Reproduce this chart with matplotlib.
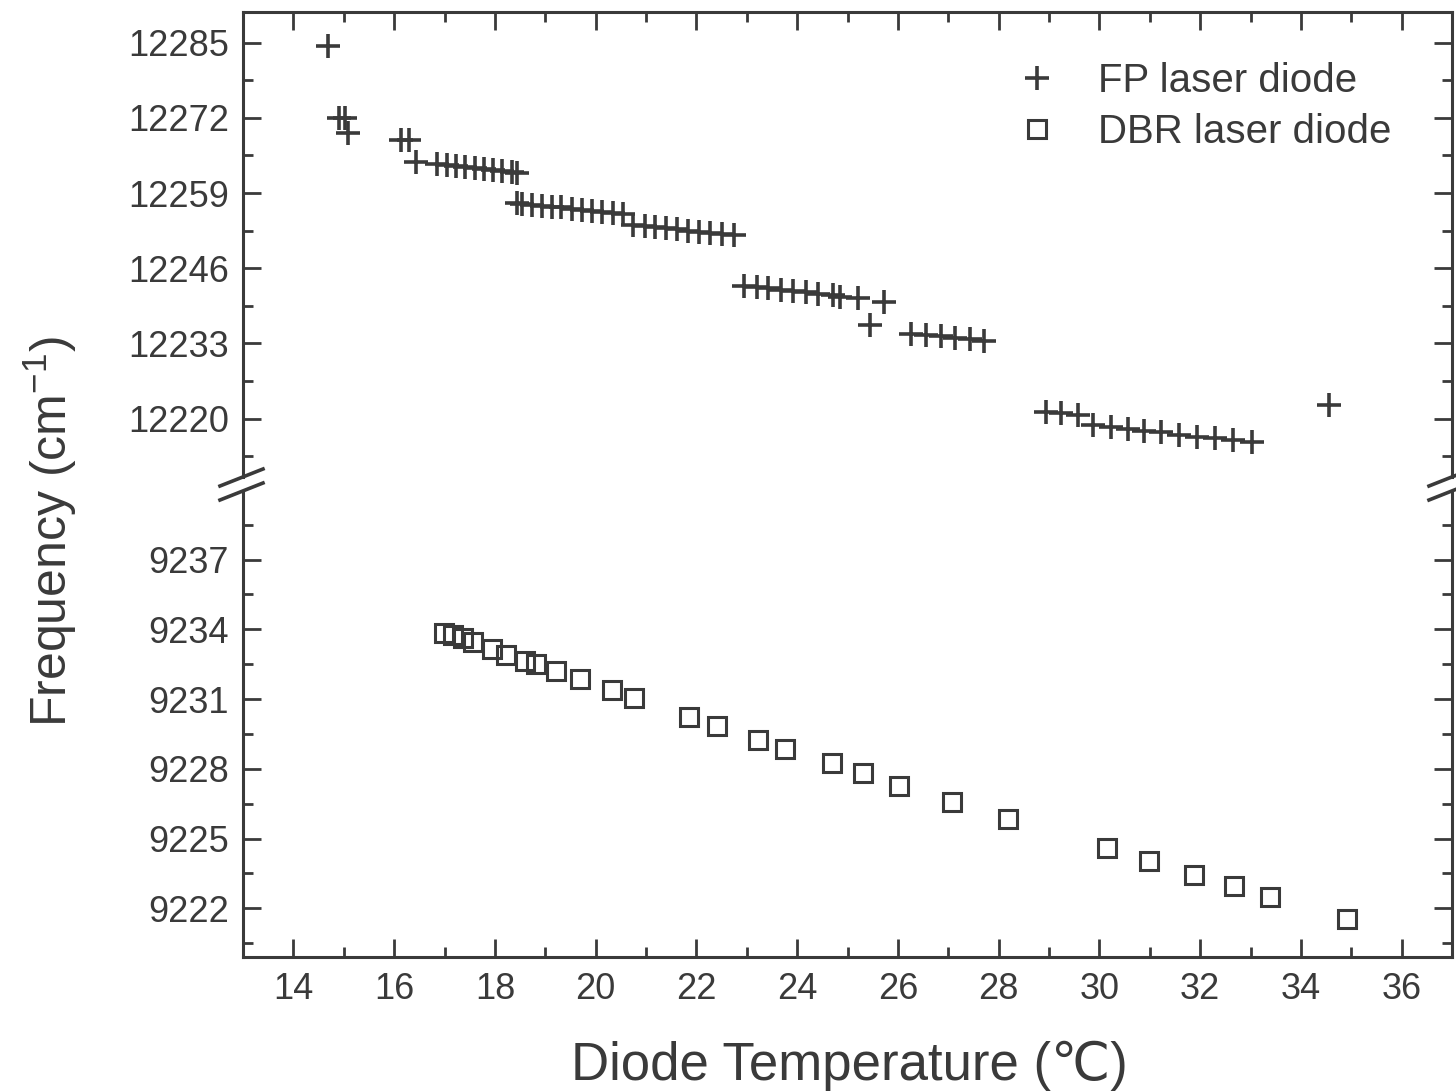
import matplotlib.pyplot as plt
from matplotlib.ticker import MultipleLocator
from matplotlib.lines import Line2D

plt.rcParams['font.family'] = ['Liberation Sans', 'DejaVu Sans']
plt.rcParams['mathtext.fontset'] = 'custom'
plt.rcParams['mathtext.rm'] = 'Liberation Sans'
plt.rcParams['mathtext.default'] = 'regular'

# FP laser diode (upper branch of the broken axis)
fp_temp = [14.68, 14.91, 15.02, 15.08, 16.13, 16.30, 16.43,
           16.86, 17.04, 17.22, 17.40, 17.60, 17.79, 17.96, 18.15, 18.33, 18.43,
           18.43, 18.54, 18.73, 18.93, 19.14, 19.32, 19.53, 19.73, 19.92, 20.13, 20.34, 20.55,
           20.75, 20.98, 21.17, 21.39, 21.61, 21.84, 22.06, 22.27, 22.50, 22.74,
           22.94, 23.20, 23.42, 23.67, 23.92, 24.17, 24.42, 24.71, 24.86, 25.20,
           25.72, 25.45,
           26.26, 26.55, 26.85, 27.14, 27.43, 27.71,
           28.94, 29.23, 29.57, 29.88, 30.23, 30.56, 30.89, 31.23, 31.58, 31.93, 32.30, 32.66, 33.02,
           34.55]
fp_freq = [12284.5, 12272.0, 12272.0, 12269.3, 12268.1, 12268.1, 12264.3,
           12264.0, 12263.8, 12263.6, 12263.5, 12263.3, 12263.1, 12262.9, 12262.8, 12262.6, 12262.4,
           12257.3, 12257.1, 12257.0, 12256.8, 12256.6, 12256.5, 12256.3, 12256.1, 12255.9, 12255.8, 12255.6, 12255.4,
           12253.5, 12253.3, 12253.1, 12252.9, 12252.7, 12252.5, 12252.3, 12252.1, 12251.9, 12251.7,
           12243.0, 12242.7, 12242.5, 12242.3, 12242.0, 12241.8, 12241.5, 12241.3, 12241.1, 12240.8,
           12240.2, 12236.1,
           12234.7, 12234.5, 12234.2, 12234.0, 12233.7, 12233.5,
           12221.1, 12220.9, 12220.7, 12218.9, 12218.6, 12218.2, 12217.9, 12217.6, 12217.2, 12216.9,
           12216.6, 12216.3, 12216.0,
           12222.3]

# DBR laser diode (lower branch)
dbr_temp = [16.99, 17.17, 17.36, 17.56, 17.95, 18.23, 18.59, 18.81, 19.21, 19.68,
            20.32, 20.76, 21.85, 22.41, 23.23, 23.76, 24.69, 25.30, 26.03, 27.08,
            28.18, 30.15, 30.99, 31.87, 32.68, 33.39, 34.91]
dbr_freq = [9233.83, 9233.77, 9233.62, 9233.44, 9233.15, 9232.90, 9232.65, 9232.50, 9232.21, 9231.85,
            9231.37, 9231.03, 9230.23, 9229.84, 9229.25, 9228.86, 9228.23, 9227.80, 9227.28, 9226.58,
            9225.82, 9224.59, 9224.03, 9223.45, 9222.97, 9222.50, 9221.53]

ink = '#3a3a3a'

fig = plt.figure(figsize=(14.56, 10.92), dpi=100)
ax_top = fig.add_axes([0.1669, 0.5632, 0.8304, 0.4258])
ax_bot = fig.add_axes([0.1669, 0.1236, 0.8304, 0.4267])

h1, = ax_top.plot(fp_temp, fp_freq, ls='none', marker='+', ms=17, mew=2.6,
                  color=ink, label='FP laser diode')
h2, = ax_bot.plot(dbr_temp, dbr_freq, ls='none', marker='s', ms=13.5, mew=2.2,
                  mfc='none', mec=ink, label='DBR laser diode')

ax_top.set_ylim(12209.9, 12290.3)
ax_bot.set_ylim(9219.9, 9239.95)
ax_top.yaxis.set_major_locator(MultipleLocator(13))
ax_top.yaxis.set_minor_locator(MultipleLocator(6.5))
ax_bot.yaxis.set_major_locator(MultipleLocator(3))
ax_bot.yaxis.set_minor_locator(MultipleLocator(1.5))

for ax in (ax_top, ax_bot):
    ax.set_xlim(13, 37)
    ax.xaxis.set_major_locator(MultipleLocator(2))
    ax.xaxis.set_minor_locator(MultipleLocator(1))
    ax.ticklabel_format(axis='y', useOffset=False)
    ax.tick_params(which='both', direction='in', color=ink, width=2,
                   labelsize=26, labelcolor=ink, left=True, right=True)
    ax.tick_params(which='major', length=13)
    ax.tick_params(which='minor', length=7)
    ax.tick_params(axis='y', pad=10)
    ax.tick_params(axis='x', pad=11)
    for s in ax.spines.values():
        s.set_linewidth(2.2)
        s.set_color(ink)

ax_top.spines['bottom'].set_visible(False)
ax_top.tick_params(axis='x', which='both', bottom=False, top=True, labelbottom=False)
ax_bot.spines['top'].set_visible(False)
ax_bot.tick_params(axis='x', which='both', bottom=True, top=False)

# break marks on both sides
W, H = 1456, 1092
for xc in (243, 1452):
    for yc in (477, 491):
        fig.add_artist(Line2D([(xc - 23) / W, (xc + 20) / W],
                              [1 - (yc + 9) / H, 1 - (yc - 8) / H],
                              transform=fig.transFigure, color=ink, lw=2.6))

fig.text(849 / W, 1 - 1080 / H, 'Diode Temperature (℃)', ha='center', va='baseline',
         fontsize=38, color=ink)
fig.text(67 / W, 1 - 532 / H, 'Frequency (cm$^{-1}$)', rotation=90, rotation_mode='anchor',
         ha='center', va='baseline', fontsize=36, color=ink)

ax_top.legend(handles=[h1, h2], loc='upper left', bbox_to_anchor=(1017 / W, 1 - 62 / H),
              bbox_transform=fig.transFigure, frameon=False, fontsize=29, labelcolor=ink,
              handlelength=1.0, handletextpad=1.0, labelspacing=0.32, borderpad=0,
              borderaxespad=0, numpoints=1)

fig.savefig('out.png', dpi=100)
